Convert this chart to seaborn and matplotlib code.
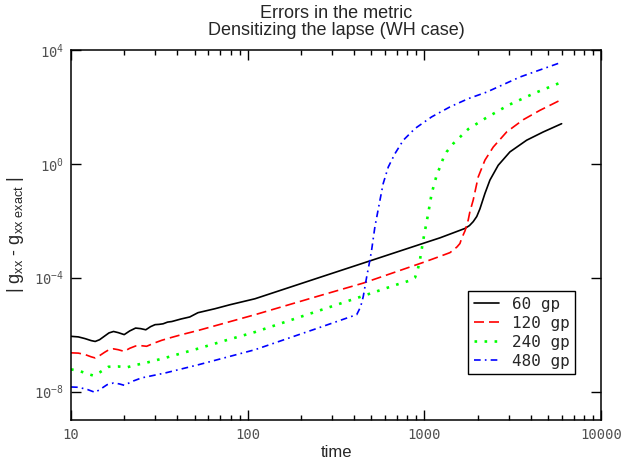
import numpy as np
import pandas as pd
import matplotlib
matplotlib.use("Agg")
import matplotlib.pyplot as plt
import matplotlib.ticker as mticker
import seaborn as sns

# time samples and log10 of |g_xx - g_xx exact|
t_60 = [10, 11, 12, 13, 13.7, 14.5, 15.5, 16.4, 17.4, 18.5, 20.0, 21.5, 23.2,
        24.8, 26.5, 28.2, 29.9, 31.5, 33.2, 35.2, 37.2, 42, 47, 52.3, 65.3,
        79.4, 110, 250, 492, 1000, 1226, 1450, 1697, 1800, 1891, 1980, 2064,
        2140, 2203, 2351, 2619, 3051, 3793, 4709, 5984]
log_err_60 = [-6.06, -6.08, -6.14, -6.21, -6.24, -6.18, -6.05, -5.94, -5.89,
              -5.93, -6.00, -5.87, -5.77, -5.79, -5.83, -5.72, -5.65, -5.64,
              -5.62, -5.56, -5.54, -5.45, -5.38, -5.23, -5.09, -4.95, -4.74,
              -4.01, -3.41, -2.78, -2.60, -2.43, -2.27, -2.17, -2.03, -1.85,
              -1.58, -1.28, -1.04, -0.57, -0.05, 0.42, 0.83, 1.12, 1.41]

t_120 = [10, 11, 12, 13, 13.7, 14.5, 15.5, 16.4, 17.4, 18.5, 20.0, 21.5, 23.2,
         25, 26.8, 29.5, 32.6, 37, 42.3, 52, 65.3, 110, 250, 451, 1000, 1226,
         1396, 1457, 1530, 1590, 1626, 1700, 1772, 1811, 1891, 2018, 2203,
         2455, 2923, 3628, 4510, 5984]
log_err_120 = [-6.64, -6.65, -6.70, -6.78, -6.82, -6.74, -6.62, -6.53, -6.50,
               -6.53, -6.59, -6.48, -6.40, -6.39, -6.41, -6.30, -6.20, -6.10,
               -6.00, -5.86, -5.69, -5.30, -4.65, -4.19, -3.45, -3.25, -3.12,
               -3.03, -2.92, -2.80, -2.62, -2.35, -1.97, -1.68, -1.27, -0.46,
               0.13, 0.59, 1.12, 1.55, 1.88, 2.26]

t_240 = [10, 11.2, 12.4, 13.4, 14.5, 16.3, 18.5, 20.7, 23.5, 26.2, 34.0, 52.5,
         74.4, 110, 250, 451, 700, 850, 885, 915, 944, 986, 1052, 1100, 1174,
         1226, 1279, 1337, 1457, 1772, 2203, 2985, 4226, 5984]
log_err_240 = [-7.22, -7.28, -7.38, -7.44, -7.33, -7.13, -7.12, -7.15, -7.06,
               -7.00, -6.82, -6.49, -6.21, -5.91, -5.17, -4.64, -4.24, -4.08,
               -4.00, -3.75, -3.38, -2.67, -1.74, -1.04, -0.40, -0.11, 0.19,
               0.42, 0.71, 1.22, 1.59, 2.06, 2.49, 2.87]

t_480 = [10, 11, 12.4, 13.7, 14.8, 16.0, 17.4, 18.7, 20.0, 22.5, 25.1, 34.0,
         52.5, 110, 250, 400, 414, 428, 442, 451, 472, 492, 503, 525, 561,
         585, 625, 682, 760, 885, 1100, 1396, 1772, 2252, 3475, 5984]
log_err_480 = [-7.84, -7.85, -7.93, -8.03, -7.90, -7.76, -7.70, -7.73, -7.78,
               -7.63, -7.52, -7.35, -7.06, -6.53, -5.77, -5.33, -5.30, -5.12,
               -4.89, -4.66, -3.96, -3.38, -3.03, -2.21, -1.27, -0.69, -0.11,
               0.36, 0.83, 1.24, 1.65, 2.00, 2.29, 2.52, 3.05, 3.57]

labels = ["60 gp", "120 gp", "240 gp", "480 gp"]
colors = ["black", "#ff0000", "#00ff00", "#0000ff"]

sns.set_style("ticks")
plt.rcParams["font.family"] = ["Liberation Sans", "DejaVu Sans"]
plt.rcParams["mathtext.fontset"] = "custom"
plt.rcParams["mathtext.rm"] = "DejaVu Sans Mono"
plt.rcParams["mathtext.sf"] = "Liberation Sans"

fig = plt.figure(figsize=(6.23, 4.62), dpi=100)
ax = fig.add_axes([0.114, 0.0909, 0.8507, 0.8009])

series = [(t_60, log_err_60), (t_120, log_err_120),
          (t_240, log_err_240), (t_480, log_err_480)]
styles = [
    dict(linestyle="-", lw=1.2),
    dict(linestyle=(0, (6, 3)), lw=1.2),
    dict(linestyle=(0, (1, 2.8)), lw=1.9),
    dict(linestyle=(0, (4, 2.5, 1, 2.5)), lw=1.2),
]
for (t, le), lab, c, st in zip(series, labels, colors, styles):
    df = pd.DataFrame({"time": t, "err": 10 ** np.array(le)})
    sns.lineplot(data=df, x="time", y="err", color=c, label=lab, ax=ax,
                 estimator=None, sort=False, **st)

ax.set_xscale("log")
ax.set_yscale("log")
ax.set_xlim(10, 10000)
ax.set_ylim(1e-9, 1e4)

ax.xaxis.set_major_locator(mticker.FixedLocator([10, 100, 1000, 10000]))
ax.xaxis.set_major_formatter(mticker.FuncFormatter(lambda v, p: "%d" % v))
ax.xaxis.set_minor_locator(mticker.LogLocator(base=10, subs=np.arange(2, 10)))
ax.xaxis.set_minor_formatter(mticker.NullFormatter())
ax.yaxis.set_major_locator(mticker.FixedLocator([1e-8, 1e-4, 1, 1e4]))
ax.yaxis.set_major_formatter(mticker.FuncFormatter(
    lambda v, p: r"$\mathrm{10^{%d}}$" % round(np.log10(v))))
ax.yaxis.set_minor_locator(mticker.NullLocator())

ax.tick_params(which="both", direction="in", top=True, right=True,
               width=1.0, colors="black", labelcolor="#505050")
ax.tick_params(which="major", length=7)
ax.tick_params(which="minor", length=3.5)
for lab in ax.get_xticklabels():
    lab.set_family("DejaVu Sans Mono")
    lab.set_fontsize(10)
ax.tick_params(axis="x", pad=6)
ax.tick_params(axis="y", labelsize=10, pad=5)
for sp in ax.spines.values():
    sp.set_linewidth(1.1)
    sp.set_color("black")

ax.set_title("Errors in the metric\nDensitizing the lapse (WH case)",
             fontsize=13, pad=11, linespacing=1.0)
ax.set_xlabel("time", fontsize=12, labelpad=2)
ax.set_ylabel(r"| g$_{\mathsf{xx}}$ - g$_{\mathsf{xx\ exact}}$ |", fontsize=13,
              labelpad=6)

leg = ax.legend(loc="lower left", bbox_to_anchor=(0.749, 0.124),
                prop={"family": "DejaVu Sans Mono", "size": 11.5},
                fancybox=False, edgecolor="black", framealpha=1,
                handlelength=1.6, handletextpad=0.8, labelspacing=0.25,
                borderpad=0.35, borderaxespad=0)
leg.get_frame().set_linewidth(1.0)

plt.savefig("out.png", dpi=100)
plt.close()
